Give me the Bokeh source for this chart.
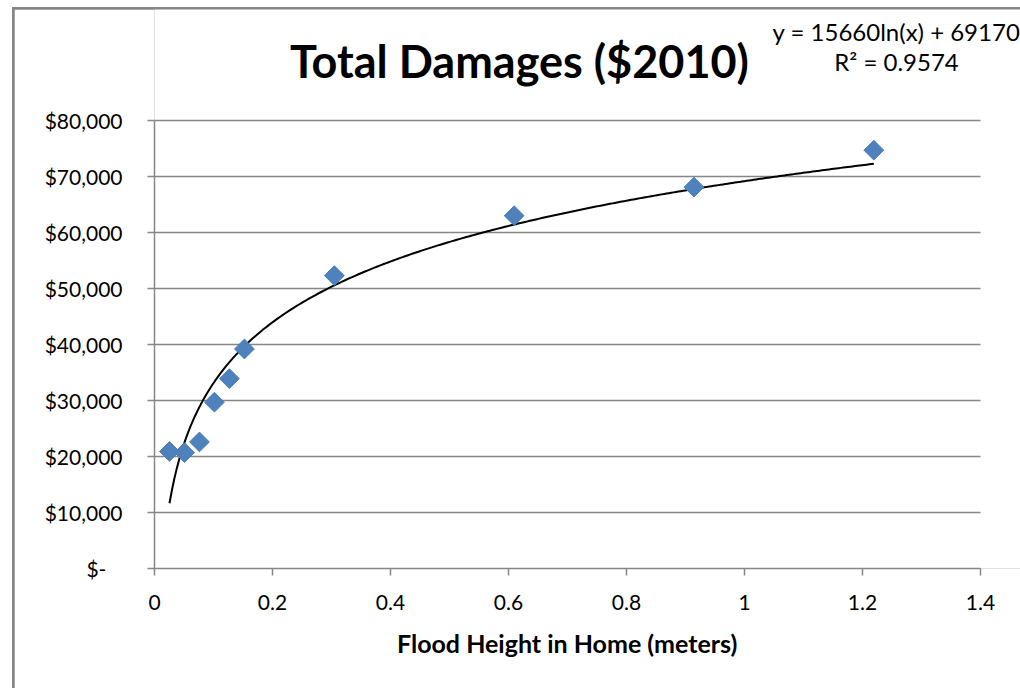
import numpy as np
from bokeh.plotting import figure
from bokeh.models import Range1d, FixedTicker, NumeralTickFormatter
from bokeh.core.properties import value
from bokeh.embed import file_html
from bokeh.resources import INLINE

# Flood depth in the home (meters) and total damages in 2010 dollars
flood_height_m = [0.0254, 0.0508, 0.0762, 0.1016, 0.127, 0.1524, 0.3048, 0.6096, 0.9144, 1.2192]
total_damages = [20900, 20700, 22600, 29700, 33900, 39200, 52300, 63000, 68100, 74700]

# Logarithmic trendline y = a*ln(x) + b
trend_a = 15660
trend_b = 69170
trend_r2 = 0.9574

chart_title = "Total Damages ($2010)"
x_title = "Flood Height in Home (meters)"
x_ticks = [0, 0.2, 0.4, 0.6, 0.8, 1.0, 1.2, 1.4]
x_tick_labels = ["0", "0.2", "0.4", "0.6", "0.8", "1", "1.2", "1.4"]
y_ticks = [0, 10000, 20000, 30000, 40000, 50000, 60000, 70000, 80000]
x_lo, x_hi = 0, 1.4
y_lo, y_hi = 0, 80000

FONT = "Lato"
GRAY = "#868686"
BLUE = "#4F81BD"

# plot area of 826 x 448 px for the axes' span; the frame continues to the
# right and above so the title and equation can sit inside it
PLOT_W, PLOT_H = 826, 448
EXTRA_R, EXTRA_T = 48, 111
px_x = (x_hi - x_lo) / PLOT_W
px_y = (y_hi - y_lo) / PLOT_H

p = figure(
    frame_width=PLOT_W + EXTRA_R, frame_height=PLOT_H + EXTRA_T,
    min_border_left=140, min_border_right=0,
    min_border_top=0, min_border_bottom=126,
    x_range=Range1d(x_lo, x_hi + EXTRA_R * px_x),
    y_range=Range1d(y_lo, y_hi + EXTRA_T * px_y),
    output_backend="svg", toolbar_location=None,
    background_fill_color="white", border_fill_color="white",
)
p.margin = (7, 0, 0, 12)
p.styles = {"background-color": GRAY, "padding-left": "2px", "padding-top": "2px"}
p.outline_line_color = None

p.xaxis.ticker = FixedTicker(ticks=x_ticks)
p.xaxis.bounds = (x_lo, x_hi)
p.xaxis.major_label_overrides = {t: s for t, s in zip(x_ticks, x_tick_labels)}
p.yaxis.ticker = FixedTicker(ticks=y_ticks)
p.yaxis.bounds = (y_lo, y_hi)
p.yaxis.formatter = NumeralTickFormatter(format="$0,0")
p.yaxis.major_label_overrides = {0: "$-\u00a0\u00a0\u00a0"}

for ax in (p.xaxis[0], p.yaxis[0]):
    ax.axis_line_color = GRAY
    ax.axis_line_width = 1.5
    ax.major_tick_line_color = GRAY
    ax.major_tick_line_width = 1.5
    ax.major_tick_in = 0
    ax.major_tick_out = 7
    ax.minor_tick_line_color = None
    ax.major_label_text_font = FONT
    ax.major_label_text_font_size = "21px"
    ax.major_label_text_color = "black"

p.yaxis.major_label_standoff = 25
p.xaxis.major_label_standoff = 19
# trailing no-break spaces keep the label centred under the axis span
p.xaxis.axis_label = x_title + "\u00a0" * 8
p.xaxis.axis_label_text_font = FONT
p.xaxis.axis_label_text_font_style = "bold"
p.xaxis.axis_label_text_font_size = "25px"
p.xaxis.axis_label_text_color = "black"
p.xaxis.axis_label_standoff = 15

p.xgrid.grid_line_color = None
p.ygrid.grid_line_color = GRAY
p.ygrid.grid_line_width = 1.5
p.ygrid.cross_bounds = (x_lo, x_hi)

# trendline over the span of the data
tx = np.linspace(min(flood_height_m), max(flood_height_m), 300)
ty = trend_a * np.log(tx) + trend_b
p.line(tx, ty, line_color="black", line_width=2)

# observations as diamonds
p.scatter(flood_height_m, total_damages, marker="square", size=14, angle=np.pi / 4,
          fill_color=BLUE, line_color="#4A7EBB", line_width=1)

# title and trendline equation above the plotted area
p.text(x=[0.6186], y=[90714], text=[chart_title], text_align="center", text_baseline="middle",
       text_font=value(FONT), text_font_style="bold", text_font_size="45px", text_color="black")
p.text(x=[1.2576, 1.2576], y=[95893, 90536],
       text=[f"y = {trend_a}ln(x) + {trend_b}", f"R\u00b2 = {trend_r2}"],
       text_align="center", text_baseline="middle",
       text_font=value(FONT), text_font_size="24px", text_color="black")

open("out.html", "w").write(file_html(p, INLINE))
